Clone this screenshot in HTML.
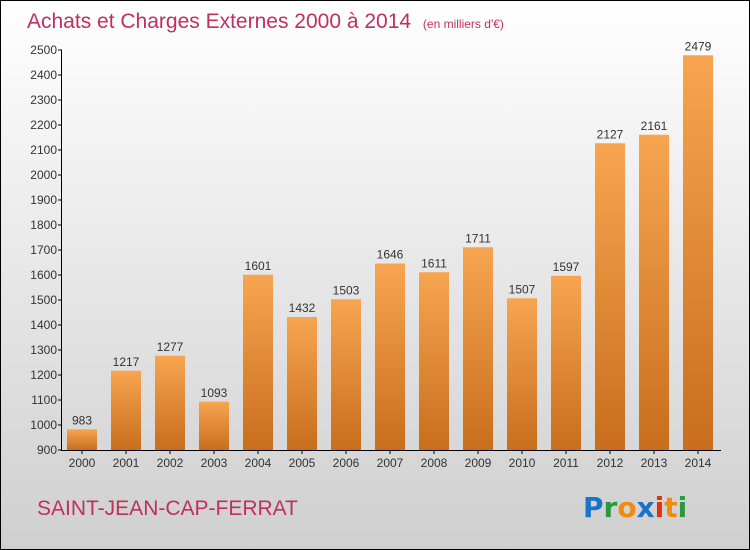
<!DOCTYPE html>
<html><head><meta charset="utf-8"><style>
body{margin:0}
#c{position:relative;width:748px;height:548px;border:1px solid #000;background:linear-gradient(#ffffff,#cfcfcf);font-family:"Liberation Sans",sans-serif;overflow:hidden}
</style></head><body>
<div id="c">
<svg width="748" height="548" style="position:absolute;left:0;top:0">
<defs><linearGradient id="g" x1="0" y1="0" x2="0" y2="1"><stop offset="0" stop-color="#f7a550"/><stop offset="1" stop-color="#c86e1c"/></linearGradient></defs>
<text x="26" y="27" font-size="21" fill="#c0305e">Achats et Charges Externes 2000 à 2014 <tspan font-size="12" dx="6">(en milliers d'€)</tspan></text>
<g id="plot"></g>
<text x="36" y="514" font-size="21" fill="#c0305e">SAINT-JEAN-CAP-FERRAT</text>
<g font-size="28" font-family="'DejaVu Sans',sans-serif" font-weight="bold">
<text x="582" y="516"><tspan fill="#1a73c8">P</tspan><tspan fill="#2a9a3a">r</tspan><tspan fill="#f08a10">o</tspan><tspan fill="#1a73c8">x</tspan><tspan fill="#e03010">i</tspan><tspan fill="#f08a10">t</tspan><tspan fill="#2a9a3a">i</tspan></text>
</g>
</svg>
</div>
<script>
const years=["2000","2001","2002","2003","2004","2005","2006","2007","2008","2009","2010","2011","2012","2013","2014"];
const values=[983,1217,1277,1093,1601,1432,1503,1646,1611,1711,1507,1597,2127,2161,2479];
const yTicks=[900,1000,1100,1200,1300,1400,1500,1600,1700,1800,1900,2000,2100,2200,2300,2400,2500];
const NS="http://www.w3.org/2000/svg";
const g=document.getElementById('plot');
const y=v=>449-(v-900)*0.25;
const x=i=>81+i*44;
function mk(t,a,txt){const e=document.createElementNS(NS,t);for(const k in a)e.setAttribute(k,a[k]);if(txt!==undefined)e.textContent=txt;g.appendChild(e);return e;}
values.forEach((v,i)=>{
 const r=mk('rect',{x:x(i)-15,y:y(v),width:30,height:y(900)-y(v),fill:'url(#g)'});
 
 
 const t=mk('text',{x:x(i),y:y(v)-5,'font-size':12,'text-anchor':'middle',fill:'#333'},String(v));
 
 
 const l=mk('text',{x:x(i),y:466,'font-size':12,'text-anchor':'middle',fill:'#333'},years[i]);
 
 
 mk('line',{x1:x(i),x2:x(i),y1:449,y2:453,stroke:'#000'});
});
yTicks.forEach(v=>{
 mk('line',{x1:57,x2:61,y1:y(v),y2:y(v),stroke:'#000'});
 const t=mk('text',{x:56,y:y(v)+4,'font-size':12,'text-anchor':'end',fill:'#333'},String(v));
 
 
});
const ax=mk('line',{x1:60.5,x2:60.5,y1:y(2500),y2:449.5,stroke:'#000'});


const bx=mk('line',{x1:60,x2:720,y1:449.5,y2:449.5,stroke:'#000'});


</script>
</body></html>
